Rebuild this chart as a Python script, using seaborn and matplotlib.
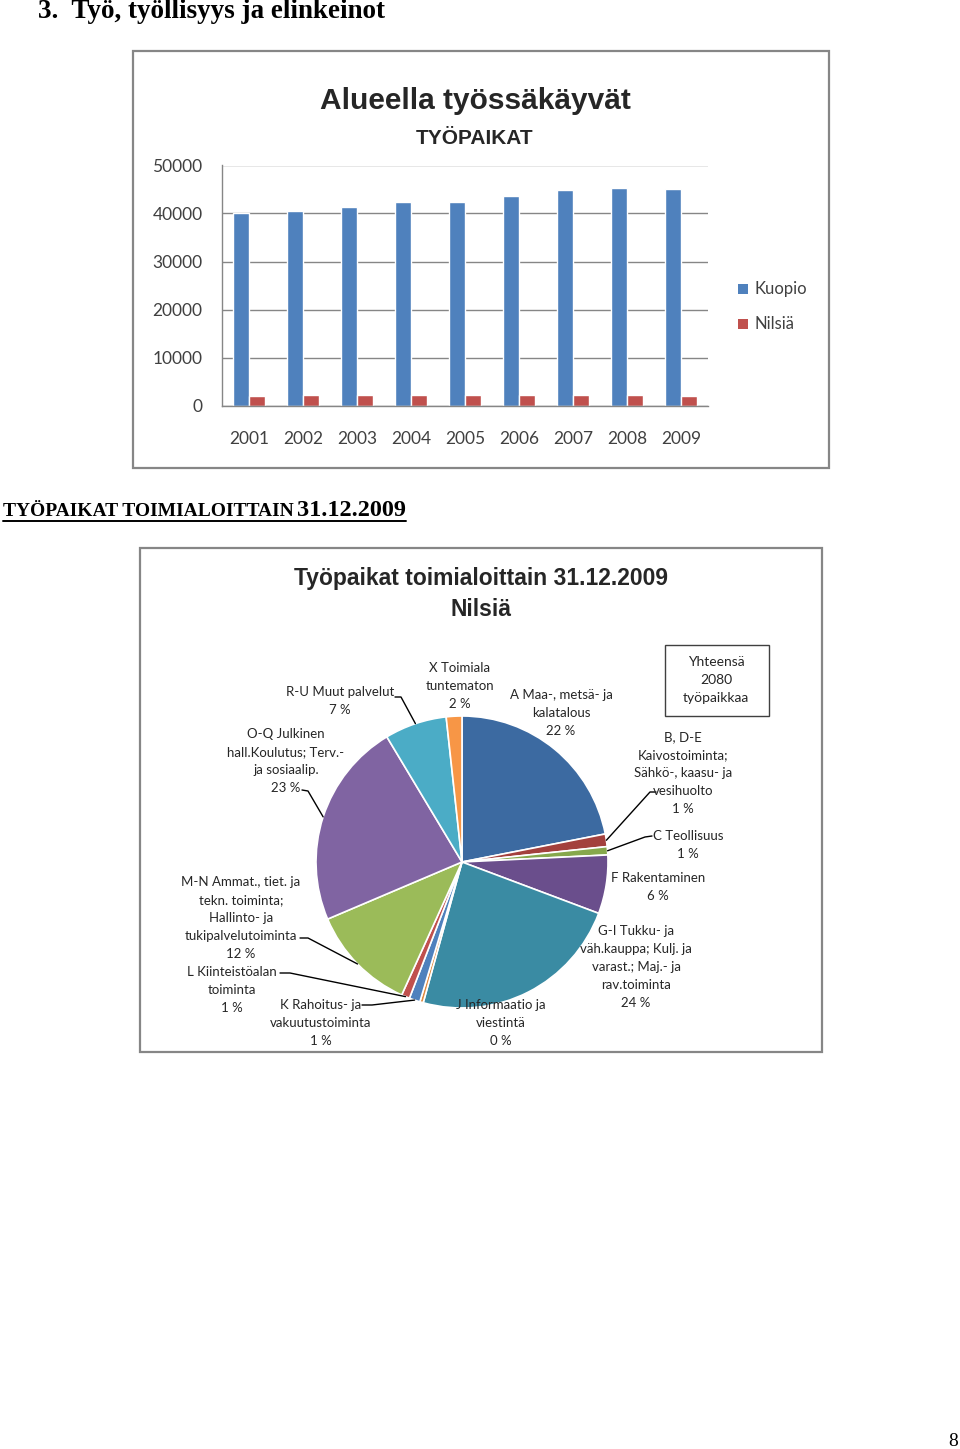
import numpy as np
import pandas as pd
import matplotlib
matplotlib.use('Agg')
import matplotlib.pyplot as plt
import seaborn as sns
from matplotlib.patches import Rectangle

# ---------------- data ----------------
years = ['2001', '2002', '2003', '2004', '2005', '2006', '2007', '2008', '2009']
kuopio = [40100, 40500, 41250, 42300, 42300, 43550, 44800, 45350, 45000]
nilsia = [1990, 2150, 2150, 2150, 2150, 2150, 2150, 2150, 2080]
series_names = ['Kuopio', 'Nilsiä']
y_ticks = [0, 10000, 20000, 30000, 40000, 50000]

sector_labels = [
    'A Maa-, metsä- ja\nkalatalous',
    'B, D-E\nKaivostoiminta;\nSähkö-, kaasu- ja\nvesihuolto',
    'C Teollisuus',
    'F Rakentaminen',
    'G-I Tukku- ja\nväh.kauppa; Kulj. ja\nvarast.; Maj.- ja\nrav.toiminta',
    'J Informaatio ja\nviestintä',
    'K Rahoitus- ja\nvakuutustoiminta',
    'L Kiinteistöalan\ntoiminta',
    'M-N Ammat., tiet. ja\ntekn. toiminta;\nHallinto- ja\ntukipalvelutoiminta',
    'O-Q Julkinen\nhall.Koulutus; Terv.-\nja sosiaalip.',
    'R-U Muut palvelut',
    'X Toimiala\ntuntematon',
]
sector_counts = [456, 29, 19, 135, 490, 8, 25, 19, 246, 474, 143, 36]
total_jobs = 2080

# ---------------- style ----------------
sns.set_theme(style='white')
plt.rcParams['font.family'] = ['Lato', 'DejaVu Sans']
BOLD = 'Liberation Sans'

W, H = 960, 1449
fig = plt.figure(figsize=(W / 100, H / 100), dpi=100)
fig.patch.set_facecolor('white')

def fax(x0, y0, x1, y1):
    return [x0 / W, 1 - y1 / H, (x1 - x0) / W, (y1 - y0) / H]

# overlay axes in pixel coordinates
ov = fig.add_axes([0, 0, 1, 1], zorder=5)
ov.set_xlim(0, W)
ov.set_ylim(H, 0)
ov.axis('off')
ov.patch.set_visible(False)

BORDER = '#868686'

# ---------------- page texts ----------------
ov.text(38, 12, '3.  Työ, työllisyys ja elinkeinot', family='Liberation Serif',
        fontweight='bold', fontsize=19.5, ha='left', va='center', color='black')
ov.text(3, 511, 'TYÖPAIKAT TOIMIALOITTAIN ', family='Liberation Serif',
        fontweight='bold', fontsize=14, ha='left', va='center', color='black')
ov.text(297, 510, '31.12.2009', family='Liberation Serif',
        fontweight='bold', fontsize=17.5, ha='left', va='center', color='black')
ov.plot([3, 406], [521, 521], color='black', lw=1.4)
ov.text(953, 1441, '8', family='Liberation Serif', fontsize=14,
        ha='center', va='center', color='black')

# ---------------- bar chart ----------------
ov.add_patch(Rectangle((133, 51), 696, 417, fill=False, edgecolor=BORDER, lw=1.6))
ov.text(475, 101, 'Alueella työssäkäyvät', family=BOLD, fontweight='bold',
        fontsize=21.5, ha='center', va='center', color='#262626')
ov.text(475, 138, 'TYÖPAIKAT', family=BOLD, fontweight='bold', fontsize=15,
        ha='center', va='center', color='#262626')

df = pd.DataFrame({
    'year': years * 2,
    'value': kuopio + nilsia,
    'series': [series_names[0]] * len(years) + [series_names[1]] * len(years),
})
bar_colors = ['#4F81BD', '#C0504D']
axb = fig.add_axes(fax(222, 165.5, 708, 405.5))
sns.barplot(data=df, x='year', y='value', hue='series', palette=bar_colors,
            width=0.58, saturation=1, ax=axb, legend=False)
axb.set_ylim(0, 50000)
axb.set_yticks(y_ticks)
axb.set_yticklabels([str(t) for t in y_ticks])
axb.set_xlabel('')
axb.set_ylabel('')
axb.yaxis.grid(True, color=BORDER, lw=1)
axb.set_axisbelow(True)
for s in ['top', 'right']:
    axb.spines[s].set_visible(False)
for s in ['left', 'bottom']:
    axb.spines[s].set_color(BORDER)
    axb.spines[s].set_linewidth(1)
axb.tick_params(axis='y', length=0, pad=14, labelsize=12.5, labelcolor='#404040')
axb.tick_params(axis='x', length=0, pad=18.5, labelsize=12.5, labelcolor='#404040')
axb.patch.set_visible(False)

# legend
for i, (name, col) in enumerate(zip(series_names, bar_colors)):
    yy = 289 + 35 * i
    ov.add_patch(Rectangle((738, yy - 5), 10, 10, facecolor=col, edgecolor='none'))
    ov.text(754, yy, name, fontsize=12, ha='left', va='center', color='#404040')

# ---------------- pie chart ----------------
ov.add_patch(Rectangle((140, 548), 682, 504, fill=False, edgecolor=BORDER, lw=1.6))
ov.text(481, 578, 'Työpaikat toimialoittain 31.12.2009', family=BOLD,
        fontweight='bold', fontsize=16.5, ha='center', va='center', color='#262626')
ov.text(481, 609, 'Nilsiä', family=BOLD, fontweight='bold', fontsize=16.5,
        ha='center', va='center', color='#262626')

pie_colors = ['#3C6AA1', '#A3403D', '#86A84C', '#6A4E8C', '#3A8BA3', '#E0893F',
              '#4F81BD', '#C0504D', '#9BBB59', '#8064A2', '#4BACC6', '#F79646']
cx, cy, R = 462, 862, 146
axp = fig.add_axes(fax(cx - R, cy - R, cx + R, cy + R))
wedges, _ = axp.pie(sector_counts, colors=pie_colors, startangle=90,
                    counterclock=False, radius=1,
                    wedgeprops=dict(edgecolor='white', linewidth=1.2))
axp.set_xlim(-1, 1)
axp.set_ylim(-1, 1)
axp.axis('off')

# label positions (text centre, px) and leader anchors
label_pos = [
    (561, 713), (683, 773), (688, 845), (658, 887), (636, 967), (501, 1023),
    (321, 1023), (232, 990), (241, 918), (286, 761), (340, 701), (460, 686),
]
leaders = {
    1: [(656, 792), (650, 792)],
    2: [(652, 836), (645, 837)],
    6: [(362, 1005), (372, 1005)],
    7: [(280, 973), (290, 973)],
    8: [(300, 938), (308, 938)],
    9: [(302, 790), (308, 791)],
    10: [(395, 697), (401, 697)],
}
for i, (lab, cnt) in enumerate(zip(sector_labels, sector_counts)):
    pct = round(cnt / total_jobs * 100)
    txt = f'{lab}\n{pct:.0f} %'
    x, y = label_pos[i]
    ov.text(x, y, txt, fontsize=9.5, ha='center', va='center', color='#262626',
            linespacing=1.6)
    if i in leaders:
        w = wedges[i]
        mid = np.deg2rad((w.theta1 + w.theta2) / 2)
        ex = cx + R * np.cos(mid)
        ey = cy - R * np.sin(mid)
        pts = leaders[i] + [(ex, ey)]
        ov.plot([p[0] for p in pts], [p[1] for p in pts], color='black', lw=1)

# total box
ov.add_patch(Rectangle((665, 645), 104, 71, fill=False, edgecolor='#404040', lw=1))
ov.text(716, 680, f'Yhteensä\n{total_jobs}\ntyöpaikkaa', fontsize=10,
        ha='center', va='center', color='#262626', linespacing=1.65)

fig.savefig('out.png', dpi=100, facecolor='white')
